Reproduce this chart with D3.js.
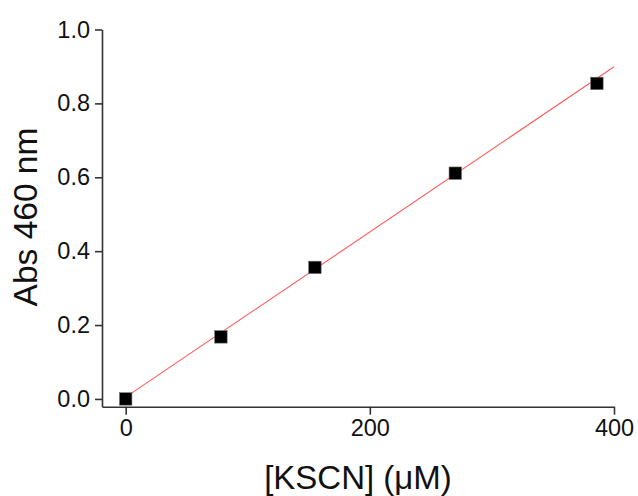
<!DOCTYPE html>
<html>
<head>
<meta charset="utf-8">
<script src="https://cdn.jsdelivr.net/npm/d3@7"></script>
<style>
  body { margin: 0; background: #fff; }
  svg { font-family: "Liberation Sans", Arial, Helvetica, sans-serif; }
  .axis path, .axis line { stroke: #333; stroke-width: 1.6px; }
  .axis text { font-size: 23.5px; fill: #111; }
</style>
</head>
<body>
<svg id="chart" width="638" height="496"></svg>
<script>
// measured points
var kscn = [0, 78, 155, 270, 386];
var absorb = [0.0, 0.168, 0.356, 0.611, 0.854];
// linear fit drawn as a straight line
var fitX = [0, 400];
var fitY = [0.005, 0.899];
var xTicks = [0, 200, 400];
var yTicks = [0.0, 0.2, 0.4, 0.6, 0.8, 1.0];

var svg = d3.select("svg");
var plotL = 102, plotR = 614, plotT = 29.5, plotB = 406.7;

var x = d3.scaleLinear()
    .domain([-19.4, 400])
    .range([plotL, plotR]);

var y = d3.scaleLinear()
    .domain([-0.021, 1.0])
    .range([plotB, plotT]);

svg.append("g")
    .attr("class", "axis axis-x")
    .attr("transform", "translate(0," + plotB + ")")
    .call(d3.axisBottom(x).tickValues(xTicks).tickSize(8).tickSizeOuter(0).tickPadding(5).tickFormat(d3.format("d")));

svg.append("g")
    .attr("class", "axis axis-y")
    .attr("transform", "translate(" + plotL + ",0)")
    .call(d3.axisLeft(y).tickValues(yTicks).tickSize(7).tickSizeOuter(0).tickPadding(5).tickFormat(d3.format(".1f")));

// fit line
var line = d3.line()
    .x(function (d, i) { return x(fitX[i]); })
    .y(function (d, i) { return y(fitY[i]); });

svg.append("path")
    .datum(fitX)
    .attr("d", line)
    .attr("fill", "none")
    .attr("stroke", "#ff5a5a")
    .attr("stroke-width", 1.1);

// square markers
var sz = 12.5;
svg.selectAll("rect.pt")
    .data(kscn)
    .enter().append("rect")
    .attr("class", "pt")
    .attr("x", function (d, i) { return x(kscn[i]) - sz / 2; })
    .attr("y", function (d, i) { return y(absorb[i]) - sz / 2; })
    .attr("width", sz)
    .attr("height", sz)
    .attr("fill", "#000")
    .attr("stroke", "#777")
    .attr("stroke-width", 0.6);

// axis titles
svg.append("text")
    .attr("x", (plotL + plotR) / 2)
    .attr("y", 489)
    .attr("text-anchor", "middle")
    .style("font-size", "33px")
    .style("fill", "#111")
    .text("[KSCN] (\u03BCM)");

svg.append("text")
    .attr("transform", "translate(37," + 217 + ") rotate(-90)")
    .attr("text-anchor", "middle")
    .style("font-size", "33.5px")
    .style("fill", "#111")
    .text("Abs 460 nm");
</script>
</body>
</html>
